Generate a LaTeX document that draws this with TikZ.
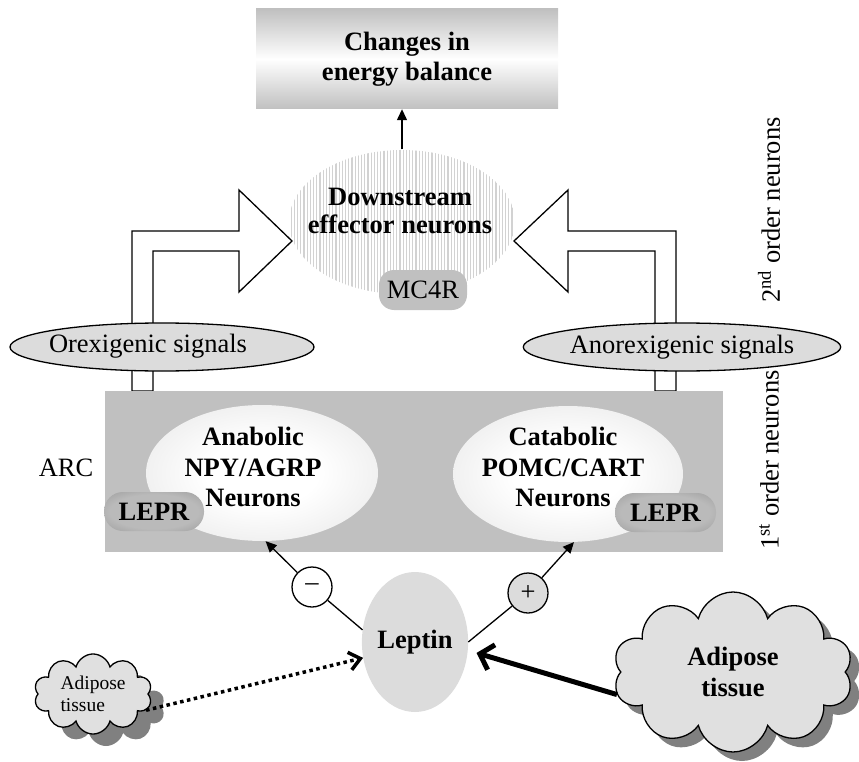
\documentclass[tikz,border=0pt]{standalone}
\usepackage{fontspec}
\setmainfont{Liberation Serif}
\usetikzlibrary{shapes.geometric,shapes.symbols,arrows.meta,patterns.meta}
\definecolor{boxgray}{HTML}{C0C0C0}
\definecolor{ellgray}{HTML}{DCDCDC}
\definecolor{neuronedge}{HTML}{D6D6D6}
\definecolor{leprin}{HTML}{BABABA}
\definecolor{leprout}{HTML}{848484}
\definecolor{cloudfill}{HTML}{E0E0E0}
\definecolor{shadowgray}{HTML}{808080}
\definecolor{hatch}{HTML}{D2D2D2}
\pgfdeclareradialshading{neuronshade}{\pgfpoint{0bp}{0bp}}{color(0bp)=(white); color(12bp)=(white); color(50bp)=(neuronedge); color(100bp)=(neuronedge)}
\pgfdeclareradialshading{leprshade}{\pgfpoint{0bp}{0bp}}{color(0bp)=(leprin); color(22bp)=(leprin); color(50bp)=(leprout); color(100bp)=(leprout)}
\newcommand\myfs{\fontsize{26.5}{30.5}\selectfont}
\begin{document}
\begin{tikzpicture}[x=1pt,y=-1pt,
  every node/.style={inner sep=0pt},
  txt/.style={font=\myfs},
  bld/.style={font=\myfs\bfseries},
  ln/.style={line width=1.3pt},
  blockarrow/.style={ln, draw=black, fill=white},
  sig/.style={ellipse, draw, ln, fill=ellgray, minimum width=304pt, minimum height=48pt},
  neuron/.style={ellipse, shade, shading=neuronshade, minimum width=232pt, minimum height=136pt},
  lepr/.style={rounded corners=19pt, shade, shading=leprshade, minimum width=100pt, minimum height=39pt, bld},
  sign/.style={circle, draw, ln, minimum size=40pt, txt},
  cloudshape/.style={cloud, cloud puffs=10, cloud puff arc=150, aspect=1.5},
  tip/.style={-{Triangle[length=11pt,width=10pt]}}
]
\useasboundingbox (0,0) rectangle (859,762);

% top box
\node[top color=boxgray, bottom color=boxgray, middle color=white, minimum width=302pt, minimum height=100pt, bld, align=center] (chg) at (407,59) {Changes in\\energy balance};

% block arrows
\draw[blockarrow] (132,391) -- (132,231) -- (239,231) -- (239,190) -- (292,241) -- (239,292) -- (239,251) -- (153,251) -- (153,391) -- cycle;
\draw[blockarrow] (676,391) -- (676,231) -- (568,231) -- (568,190) -- (514,241) -- (568,292) -- (568,251) -- (655,251) -- (655,391) -- cycle;

% downstream
\node[ellipse, minimum width=226pt, minimum height=144pt, pattern={Lines[angle=90,distance=3.2pt,line width=1.3pt]}, pattern color=hatch] (down) at (402,222) {};
\node[font=\fontsize{26.5}{28}\selectfont\bfseries, align=center] (downT) at (400,211) {Downstream\\effector neurons};
\draw[ln, tip] (down.north) -- (down.north |- chg.south);

\node[rounded corners=15pt, fill=boxgray, minimum width=88pt, minimum height=40pt, txt] (mc4r) at (423,290) {MC4R};

% signals
\node[sig] (orex) at (162,347) {};
\node[txt] (orexT) at (148,346) {Orexigenic signals};
\node[sig, minimum width=310pt, txt] (anor) at (682,347) {Anorexigenic signals};

% ARC
\node[fill=boxgray, minimum width=618pt, minimum height=161pt] (arc) at (414,471.5) {};
\node[txt] (arcT) at (66,468) {ARC};
\node[neuron] (ana) at (262,473) {};
\node[neuron, minimum width=230pt] (cat) at (568,474) {};
\node[bld, align=center] (anaT) at (253,467) {Anabolic\\NPY/AGRP\\Neurons};
\node[bld, align=center] (catT) at (563,467) {Catabolic\\POMC/CART\\Neurons};
\node[lepr] (lepr1) at (154,511.5) {LEPR};
\node[lepr, minimum width=101pt] (lepr2) at (665.5,512.5) {LEPR};

% side labels
\node[txt, rotate=90] (o2) at (769,210) {2\textsuperscript{nd} order neurons};
\node[txt, rotate=90] (o1) at (769,460) {1\textsuperscript{st} order neurons};

% leptin and signs
\node[ellipse, fill=ellgray, minimum width=106pt, minimum height=140pt, bld] (lep) at (415,642) {Leptin};
\node[sign, fill=white] (minus) at (312,587) {–};
\node[sign, fill=ellgray] (plus) at (528,593) {+};
\draw[ln] (lep.167) -- (minus);
\draw[ln, tip] (minus) -- (ana.-87);
\draw[ln] (lep.east) -- (plus);
\draw[ln, tip] (plus) -- (cat.-85);

% clouds
\node[cloudshape, fill=shadowgray, minimum width=240pt, minimum height=160pt] (cloudRs) at (742,681) {};
\node[cloudshape, draw, ln, fill=cloudfill, minimum width=240pt, minimum height=160pt, bld, align=center] (cloudR) at (733,672) {Adipose\\tissue};
\node[cloudshape, fill=shadowgray, minimum width=118pt, minimum height=78pt] (cloudLs) at (106,707) {};
\node[cloudshape, draw, ln, fill=cloudfill, minimum width=118pt, minimum height=78pt, font=\fontsize{19.5}{22}\selectfont, align=left] (cloudL) at (93,694) {Adipose\\tissue};

\draw[line width=5pt, shorten >=9pt, -{Straight Barb[length=12pt,width=26pt,line width=5pt]}] (cloudR.191) -- (lep.-9);
\draw[line width=3.5pt, dash pattern=on 3.5pt off 3.5pt, -{Straight Barb[length=11pt,width=18pt,line width=3.5pt]}] (cloudL.-17) -- (lep.197);
\end{tikzpicture}
\end{document}
